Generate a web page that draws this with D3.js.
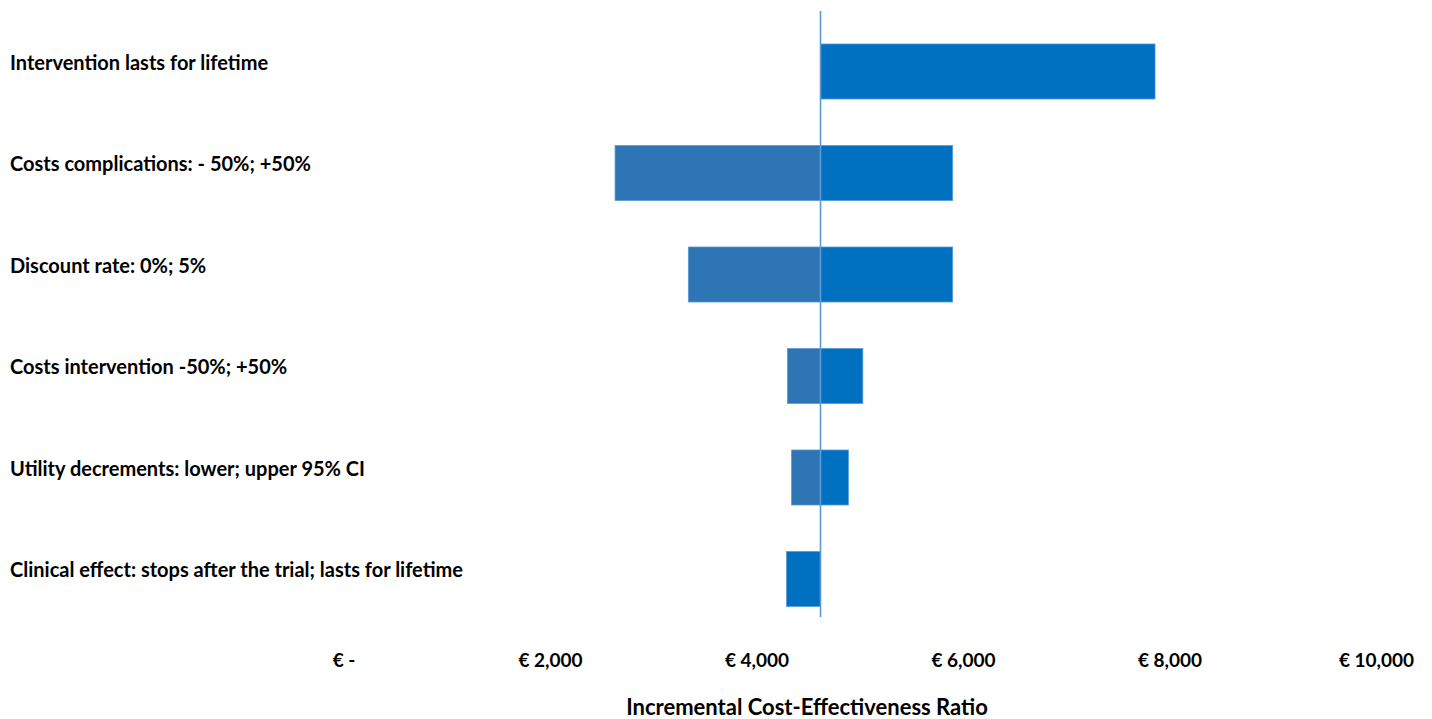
<!DOCTYPE html>
<html>
<head>
<meta charset="utf-8">
<script src="https://cdn.jsdelivr.net/npm/d3@7"></script>
<style>
  html, body { margin: 0; padding: 0; background: #ffffff; }
  svg { display: block; }
  text { font-family: Lato, "Open Sans", sans-serif; font-weight: bold; fill: #000; }
</style>
</head>
<body>
<svg id="chart" width="1432" height="719"></svg>
<script>
// Tornado diagram: one-way sensitivity analysis of the ICER
const categories = [
  "Intervention lasts for lifetime",
  "Costs complications: - 50%; +50%",
  "Discount rate: 0%; 5%",
  "Costs intervention -50%; +50%",
  "Utility decrements: lower; upper 95% CI",
  "Clinical effect: stops after the trial; lasts for lifetime"
];
const baseICER = 4620;
// ICER under the first scenario of each parameter
const lowValues  = [4620, 2630, 3340, 4300, 4340, 4620];
// ICER under the second scenario of each parameter
const highValues = [7860, 5900, 5900, 5030, 4890, 4290];
const tickValues = [0, 2000, 4000, 6000, 8000, 10000];
const tickLabels = ["€ -", "€ 2,000", "€ 4,000", "€ 6,000", "€ 8,000", "€ 10,000"];
const axisTitle = "Incremental Cost-Effectiveness Ratio";

const svg = d3.select("#chart");

const x = d3.scaleLinear().domain([0, 10000]).range([343.5, 1376]);
const y = d3.scaleBand().domain(categories).range([20.75, 629.75])
  .paddingInner(0.458).paddingOuter(0.229);

const series = [
  { values: lowValues,  fill: "#2E75B6" },
  { values: highValues, fill: "#0070C0" }
];

series.forEach((s, si) => {
  svg.append("g").attr("class", "series-" + si)
    .selectAll("rect")
    .data(categories.map((c, i) => ({ c, v: s.values[i] })).filter(d => d.v !== baseICER))
    .join("rect")
      .attr("x", d => x(Math.min(d.v, baseICER)))
      .attr("width", d => Math.abs(x(d.v) - x(baseICER)))
      .attr("y", d => y(d.c))
      .attr("height", y.bandwidth())
      .attr("fill", s.fill)
      .attr("stroke", "#5B9BD5")
      .attr("stroke-width", 0.8);
});

// base-case reference line
svg.append("line")
  .attr("x1", x(baseICER)).attr("x2", x(baseICER))
  .attr("y1", 11).attr("y2", 617)
  .attr("stroke", "#5B9BD5")
  .attr("stroke-width", 1.6);

// category labels
svg.append("g").selectAll("text")
  .data(categories)
  .join("text")
    .attr("x", 10)
    .attr("y", d => y(d) + y.bandwidth() / 2 - 2)
    .attr("font-size", 20)
    .text(d => d);

// x axis tick labels (no axis line or tick marks)
const xAxis = d3.axisBottom(x)
  .tickValues(tickValues)
  .tickFormat((d, i) => tickLabels[i])
  .tickSize(0)
  .tickPadding(0);
const gx = svg.append("g").attr("transform", "translate(0,653)").call(xAxis);
gx.select(".domain").remove();
gx.selectAll("text")
  .attr("font-family", "Lato, 'Open Sans', sans-serif")
  .attr("font-size", 19)
  .attr("font-weight", "bold")
  .attr("fill", "#000");

// axis title
svg.append("text")
  .attr("x", 807)
  .attr("y", 715)
  .attr("text-anchor", "middle")
  .attr("font-size", 22)
  .text(axisTitle);
</script>
</body>
</html>
